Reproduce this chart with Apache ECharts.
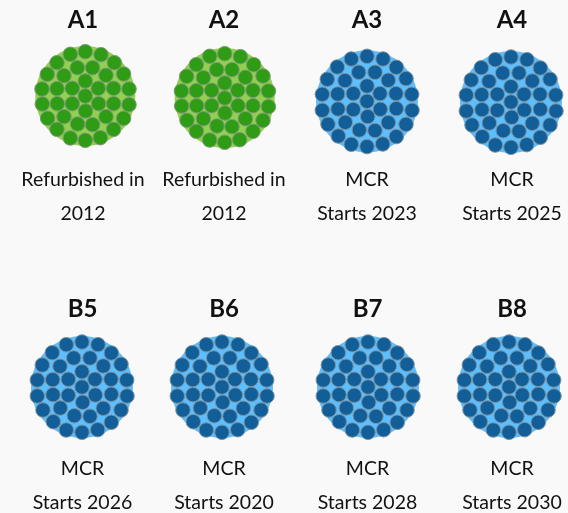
<!DOCTYPE html>
<html>
<head>
<meta charset="utf-8">
<style>
html, body { margin: 0; padding: 0; background: #f9f9f9; }
#main { width: 568px; height: 513px; }
</style>
<script src="https://cdn.jsdelivr.net/npm/echarts@6/dist/echarts.min.js"></script>
</head>
<body>
<div id="main"></div>
<script>
// units and what the picture says about them
var unitNames = ['A1', 'A2', 'A3', 'A4', 'B5', 'B6', 'B7', 'B8'];
var noteTop = ['Refurbished in', 'Refurbished in', 'MCR', 'MCR', 'MCR', 'MCR', 'MCR', 'MCR'];
var noteBottom = ['2012', '2012', 'Starts 2023', 'Starts 2025', 'Starts 2026', 'Starts 2020', 'Starts 2028', 'Starts 2030'];
var refurbished = [true, true, false, false, false, false, false, false];

// where each bundle sits on the 568x513 sheet
var centerX = [85.3, 224.7, 367, 511, 82, 222, 368, 509];
var centerY = [96, 98, 101.3, 102, 387, 387, 387, 387];
var textX = [83, 224, 367, 512, 82.5, 224, 367.5, 512];
var titleY = [20.5, 20.5, 20.5, 20.5, 309.5, 309.5, 309.5, 309.5];
var noteTopY = [180, 180, 180, 180, 469, 469, 469, 469];
var noteBottomY = [214, 214, 214, 214, 503, 503, 503, 503];

// tube positions measured from the middle tube of a bundle
var greenTubes = [
    [-15, -41.7], [0, -44.3], [15.7, -41.3], [29, -33.3], [-28.3, -33.3],
    [-38, -21.7], [-21.3, -20.3], [-8, -28.3], [7.3, -28.3], [20.7, -20.7], [38.3, -22],
    [0, -15],
    [-43.3, -7], [-28.3, -7.3], [-13, -7.7], [13, -7.7], [28.3, -7.7], [43.7, -7],
    [0, 0],
    [-43, 8], [-28, 7.7], [-13, 7.7], [13.3, 7.7], [28.3, 7.7], [43.7, 8.7],
    [0.3, 15],
    [-37.7, 22.3], [-21.3, 20.7], [-7.7, 28], [7.3, 28.7], [20.7, 20.7], [38.3, 22.3],
    [-28.3, 33.3], [28.3, 33.3],
    [-15, 42], [0, 44.3], [15, 41.7]
];
var blueTubes = [
    [-15.7, -42.3], [0, -45], [16, -42.3], [29.3, -34], [-29.7, -34.3],
    [-39.7, -22], [-22, -20.7], [-8.3, -29], [8, -29], [21.3, -21], [39, -22.7],
    [0, -15.3],
    [-44.7, -7], [-29.3, -7.3], [-13.7, -7.7], [13, -7.7], [29, -7.7], [44.7, -7],
    [0, 0],
    [-44.7, 9], [-29, 7.7], [-13.7, 8.3], [13.3, 8], [29.3, 7.3], [45, 9],
    [0.7, 15.3],
    [-39, 23], [-21.7, 21], [-7.7, 28.7], [8, 29.3], [21.3, 21.3], [39, 23],
    [-28.7, 34.7], [29.3, 35.3],
    [-15.7, 43], [0, 45.3], [15.7, 42.7]
];

var discData = { green: [], blue: [] };
var tubeData = { green: [], blue: [] };
var titleData = [], noteTopData = [], noteBottomData = [];

unitNames.forEach(function (name, i) {
    var kind = refurbished[i] ? 'green' : 'blue';
    var tubes = refurbished[i] ? greenTubes : blueTubes;
    discData[kind].push([centerX[i], centerY[i]]);
    tubes.forEach(function (t) {
        tubeData[kind].push([centerX[i] + t[0], centerY[i] + t[1]]);
    });
    titleData.push({ value: [textX[i], titleY[i]], label: { formatter: name } });
    noteTopData.push({ value: [textX[i], noteTopY[i]], label: { formatter: noteTop[i] } });
    noteBottomData.push({ value: [textX[i], noteBottomY[i]], label: { formatter: noteBottom[i] } });
});

function discSeries(data, color, size) {
    return {
        type: 'scatter', data: data, symbolSize: size, z: 1, silent: true,
        itemStyle: { color: color, opacity: 1 }
    };
}
function tubeSeries(data, color, edge) {
    return {
        type: 'scatter', data: data, symbolSize: 14.5, z: 2, silent: true,
        itemStyle: { color: color, opacity: 1, borderColor: edge, borderWidth: 1 }
    };
}
function textSeries(data, size, weight) {
    return {
        type: 'scatter', data: data, symbolSize: 0, z: 3, silent: true,
        itemStyle: { opacity: 1 },
        label: {
            show: true, position: 'inside', color: '#111111',
            fontFamily: 'Lato', fontSize: size, fontWeight: weight
        }
    };
}

var myChart = echarts.init(document.getElementById('main'));
myChart.setOption({
    animation: false,
    backgroundColor: '#f9f9f9',
    grid: { left: 0, right: 0, top: 0, bottom: 0 },
    xAxis: { type: 'value', min: 0, max: 568, show: false },
    yAxis: { type: 'value', min: 0, max: 513, inverse: true, show: false },
    series: [
        discSeries(discData.green, '#92d050', 100),
        discSeries(discData.blue, '#5cbfff', 102),
        tubeSeries(tubeData.green, '#2e9c14', '#7f9a78'),
        tubeSeries(tubeData.blue, '#115e98', '#7d929f'),
        textSeries(titleData, 24, 'bold'),
        textSeries(noteTopData, 19.5, 'normal'),
        textSeries(noteBottomData, 19.5, 'normal')
    ]
});
</script>
</body>
</html>
